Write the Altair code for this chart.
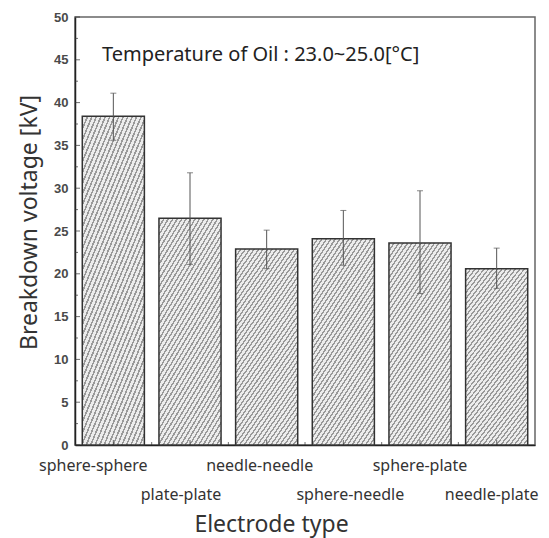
import altair as alt
import pandas as pd

# ---- data ----
categories = ["sphere-sphere", "plate-plate", "needle-needle",
              "sphere-needle", "sphere-plate", "needle-plate"]
means = [38.4, 26.5, 22.9, 24.1, 23.6, 20.6]
err_low = [35.6, 21.1, 20.6, 21.0, 17.7, 18.3]
err_high = [41.1, 31.8, 25.1, 27.4, 29.7, 23.0]
y_major = [0, 5, 10, 15, 20, 25, 30, 35, 40, 45, 50]
y_minor = [2.5, 7.5, 12.5, 17.5, 22.5, 27.5, 32.5, 37.5, 42.5, 47.5]
lower_row = ["plate-plate", "sphere-needle", "needle-plate"]
note = "Temperature of Oil : 23.0~25.0[°C]"

df = pd.DataFrame({"cat": categories, "mean": means, "lo": err_low, "hi": err_high})
df_ymaj = pd.DataFrame({"v": y_major})
df_ymin = pd.DataFrame({"v": y_minor})
df_xmin = pd.DataFrame({"cat": categories[:-1]})
df_note = pd.DataFrame({"t": [note], "y": [44.9]})

# hatch-like fill (styling only)
n_stripes = 44
stops = []
for i in range(n_stripes):
    t0 = i / n_stripes
    t1 = (i + 0.38) / n_stripes
    t2 = (i + 1) / n_stripes
    stops += [alt.GradientStop(offset=t0, color="#999999"),
              alt.GradientStop(offset=t1, color="#999999"),
              alt.GradientStop(offset=t1, color="#ececec"),
              alt.GradientStop(offset=t2, color="#ececec")]
hatch = alt.LinearGradient(gradient="linear", stops=stops, x1=0, y1=0, x2=0.55, y2=1.2)

xscale = alt.Scale(domain=categories, paddingInner=0.19, paddingOuter=0.095)
yscale = alt.Scale(domain=[0, 50], nice=False, zero=True)

label_shift = [
    {"test": "datum.value == 'sphere-sphere'", "value": -20},
    {"test": "datum.value == 'plate-plate'", "value": -9},
    {"test": "datum.value == 'needle-needle'", "value": -7},
    {"test": "datum.value == 'sphere-needle'", "value": 7},
    {"test": "datum.value == 'needle-plate'", "value": -5},
]

xaxis = alt.Axis(
    title="Electrode type", titleFont="Noto Sans", titleFontSize=23,
    titleFontWeight="normal", titleColor="#333", titleX=196, titleY=86,
    titleBaseline="alphabetic", titleAlign="center",
    labelAngle=0, labelFont="Noto Sans", labelFontSize=16, labelColor="#333",
    labelPadding=12, labelLineHeight=29, labelBaseline="top",
    labelOverlap=False, labelBound=False,
    labelExpr="indexof(" + str(lower_row) + ", datum.value) >= 0 ? ['', datum.label] : datum.label",
    labelOffset={"condition": label_shift, "value": 0},
    ticks=False, tickSize=0, domainColor="#222", domainWidth=1.5, grid=False,
)
yaxis = alt.Axis(
    title="Breakdown voltage [kV]", titleFont="Noto Sans", titleFontSize=23,
    titleFontWeight="normal", titleColor="#333", titleX=-46, titleY=205,
    titleBaseline="middle", titleAlign="center",
    values=y_major, labelFont="Liberation Sans", labelFontSize=13,
    labelFontWeight="bold", labelColor="#4a4a4a", labelPadding=7, labelOverlap=False,
    ticks=False, tickSize=0, domainColor="#222", domainWidth=1.5, grid=False,
)

bars = alt.Chart(df).mark_bar(color=hatch, stroke="#333", strokeWidth=1.5).encode(
    x=alt.X("cat:N", scale=xscale, axis=xaxis, sort=categories),
    y=alt.Y("mean:Q", scale=yscale, axis=yaxis),
)
rules = alt.Chart(df).mark_rule(color="#555", strokeWidth=1).encode(
    x=alt.X("cat:N", sort=categories), y="lo:Q", y2="hi:Q")
cap_hi = alt.Chart(df).mark_tick(color="#555", thickness=1, size=6, orient="horizontal").encode(
    x=alt.X("cat:N", sort=categories), y="hi:Q")
cap_lo = alt.Chart(df).mark_tick(color="#555", thickness=1, size=6, orient="horizontal").encode(
    x=alt.X("cat:N", sort=categories), y="lo:Q")
ymaj = alt.Chart(df_ymaj).mark_tick(color="#333", thickness=1, size=5, orient="horizontal").encode(
    y="v:Q", x=alt.value(2.5))
ymin = alt.Chart(df_ymin).mark_tick(color="#333", thickness=1, size=3, orient="horizontal").encode(
    y="v:Q", x=alt.value(1.5))
xmaj = alt.Chart(df).mark_tick(color="#333", thickness=1, size=5, orient="vertical").encode(
    x=alt.X("cat:N", sort=categories), y=alt.value(425.5))
xmin = alt.Chart(df_xmin).mark_tick(color="#333", thickness=1, size=3, orient="vertical",
                                    xOffset=7.3).encode(
    x=alt.X("cat:N", sort=categories, bandPosition=1), y=alt.value(426.5))
text = alt.Chart(df_note).mark_text(align="left", baseline="alphabetic", font="Noto Sans",
                                    fontSize=20, color="#222").encode(
    x=alt.value(27), y=alt.Y("y:Q"), text="t:N")

chart = alt.layer(bars, rules, cap_hi, cap_lo, ymaj, ymin, xmaj, xmin, text).properties(
    width=460, height=428,
    autosize=alt.AutoSizeParams(type="none"),
    padding={"left": 67, "top": 9, "right": 6, "bottom": 93},
).configure_view(stroke="#666", strokeWidth=1.5)

chart.save("out.html", embed_options={"renderer": "svg", "actions": False})
